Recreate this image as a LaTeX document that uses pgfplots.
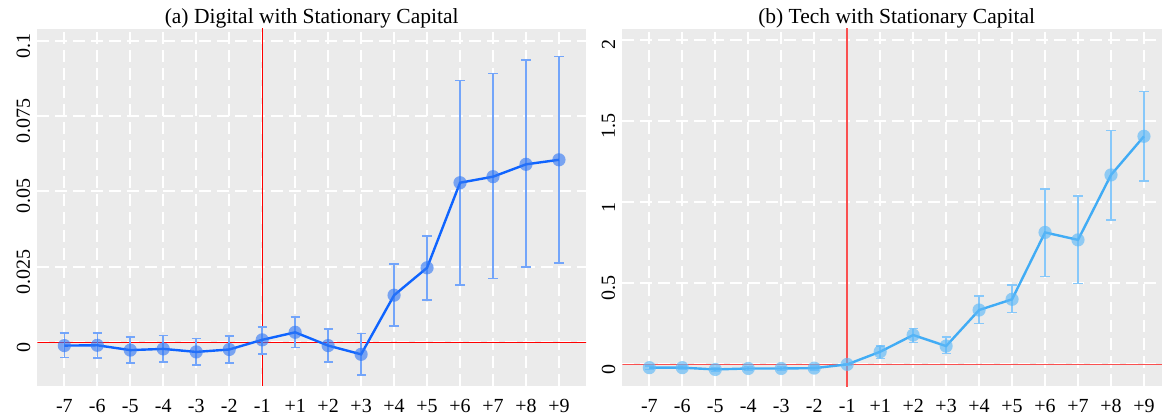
\documentclass[border=0pt]{standalone}
\usepackage{pgfplots}
\usepackage{pgfplotstable}
\pgfplotsset{compat=1.18}
\usepackage{fontspec}
\setmainfont{Liberation Serif}

\definecolor{panelbg}{RGB}{235,235,235}
\definecolor{lineA}{RGB}{15,100,255}
\definecolor{markA}{RGB}{50,120,245}
\definecolor{barA}{RGB}{115,165,250}
\definecolor{lineB}{RGB}{65,172,245}
\definecolor{markB}{RGB}{95,185,248}
\definecolor{barB}{RGB}{135,200,250}
\definecolor{redB}{RGB}{250,80,80}

% x = event time index (0..15 -> -7..-1,+1..+9), y = estimate, lo/hi = CI
\pgfplotstableread{
x y lo hi
0 -0.0011 -0.0050 0.0030
1 -0.0010 -0.0052 0.0030
2 -0.0026 -0.0069 0.0018
3 -0.0022 -0.0065 0.0023
4 -0.0032 -0.0075 0.0012
5 -0.0024 -0.0068 0.0021
6 0.0008 -0.0038 0.0051
7 0.0033 -0.0018 0.0083
8 -0.0011 -0.0066 0.0044
9 -0.0040 -0.0108 0.0029
10 0.0156 0.0053 0.0259
11 0.0247 0.0140 0.0352
12 0.0529 0.0190 0.0868
13 0.0549 0.0212 0.0891
14 0.0590 0.0249 0.0935
15 0.0605 0.0262 0.0947
}\digital

\pgfplotstableread{
x y lo hi
0 -0.020 -0.032 -0.008
1 -0.020 -0.032 -0.008
2 -0.031 -0.043 -0.019
3 -0.025 -0.037 -0.013
4 -0.025 -0.037 -0.013
5 -0.023 -0.035 -0.011
6 0.000 -0.006 0.006
7 0.078 0.037 0.113
8 0.181 0.134 0.222
9 0.113 0.066 0.169
10 0.335 0.253 0.422
11 0.401 0.319 0.488
12 0.813 0.541 1.080
13 0.767 0.498 1.039
14 1.167 0.891 1.440
15 1.405 1.131 1.681
}\tech

\pgfplotsset{
  panel/.style={
    scale only axis,
    width=274.35pt, height=178.5pt,
    anchor=south west,
    xmin=-0.82, xmax=15.82,
    axis background/.style={fill=panelbg},
    axis line style={draw=none},
    major tick length=0pt,
    grid=major,
    major grid style={white, line width=1pt, dash pattern=on 6pt off 3pt},
    xtick={0,...,15},
    xticklabels={-7,-6,-5,-4,-3,-2,-1,+1,+2,+3,+4,+5,+6,+7,+8,+9},
    tick label style={font=\fontsize{10}{12}\selectfont},
    xticklabel style={yshift=-3pt},
    yticklabel style={rotate=90, anchor=south, xshift=-2.5pt},
    every axis title/.style={at={(0.5,1)}, anchor=base, yshift=2.5pt,
      font=\fontsize{10.75}{13}\selectfont},
  },
}

\begin{document}
\begin{tikzpicture}
\path[use as bounding box] (0,0) rectangle (581pt,209.5pt);

\begin{axis}[panel, at={(18.65pt,16.5pt)},
  ymin=-0.01449, ymax=0.10388,
  ytick={0,0.025,0.05,0.075,0.1},
  yticklabels={0,0.025,0.05,0.075,0.1},
  title={(a) Digital with Stationary Capital}]
\addplot[red, line width=0.6pt] coordinates {(-1,0) (17,0)};
\addplot[red, line width=0.6pt] coordinates {(6,-1) (6,1)};
\addplot[draw=none, mark=none,
  error bars/.cd, y dir=both, y explicit,
  error bar style={barA, line width=0.8pt},
  error mark options={barA, rotate=90, mark size=2.3pt, line width=0.8pt}]
  table[x=x, y=y, y error plus expr=\thisrow{hi}-\thisrow{y},
        y error minus expr=\thisrow{y}-\thisrow{lo}] {\digital};
\addplot[color=markA, only marks, mark=*, mark size=3.3pt,
  mark options={fill=markA, draw opacity=0, fill opacity=0.62}]
  table[x=x, y=y] {\digital};
\addplot[lineA, line width=1.2pt, mark=none] table[x=x, y=y] {\digital};
\end{axis}

\begin{axis}[panel, at={(311.15pt,16.5pt)},
  ymin=-0.133, ymax=2.066,
  ytick={0,0.5,1,1.5,2},
  yticklabels={0,0.5,1,1.5,2},
  title={(b) Tech with Stationary Capital}]
\addplot[redB, line width=0.9pt] coordinates {(-1,0) (17,0)};
\addplot[redB, line width=0.8pt] coordinates {(6,-1) (6,3)};
\addplot[draw=none, mark=none,
  error bars/.cd, y dir=both, y explicit,
  error bar style={barB, line width=0.8pt},
  error mark options={barB, rotate=90, mark size=2.3pt, line width=0.8pt}]
  table[x=x, y=y, y error plus expr=\thisrow{hi}-\thisrow{y},
        y error minus expr=\thisrow{y}-\thisrow{lo}] {\tech};
\addplot[color=markB, only marks, mark=*, mark size=3.3pt,
  mark options={fill=markB, draw opacity=0, fill opacity=0.65}]
  table[x=x, y=y] {\tech};
\addplot[lineB, line width=1.2pt, mark=none] table[x=x, y=y] {\tech};
\end{axis}
\end{tikzpicture}
\end{document}
